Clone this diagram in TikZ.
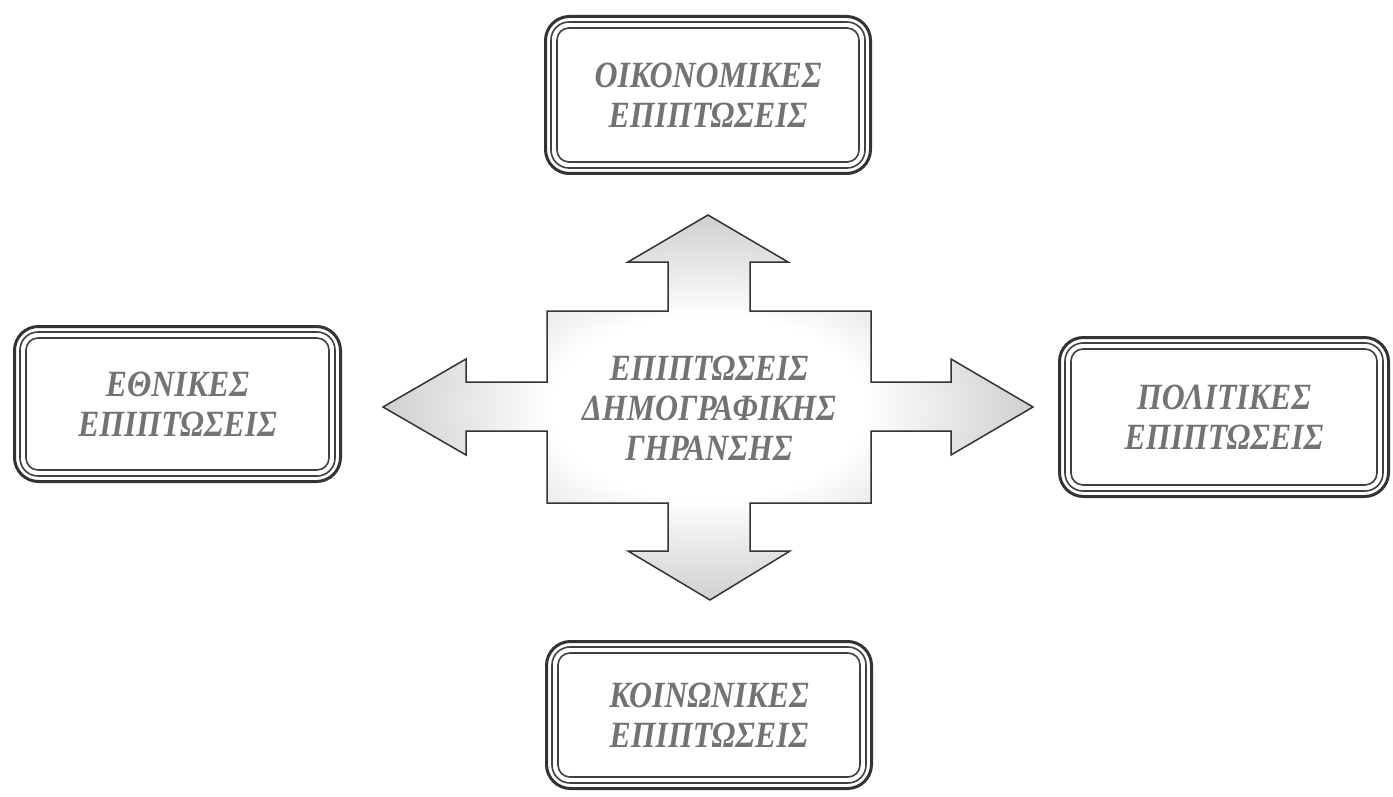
\documentclass[tikz,border=0pt]{standalone}
\usepackage{fontspec}
\newfontfamily\grk{Liberation Serif}[FakeStretch=0.86]
\pgfdeclareradialshading{crossshade}{\pgfpoint{0bp}{0bp}}{color(0bp)=(white); color(12bp)=(white); color(33bp)=(black!30); color(50bp)=(black!36)}
\tikzset{
  frameouter/.style={draw=black!80, line width=3pt, rounded corners=24pt, inner sep=0pt,
    font=\grk\bfseries\itshape\fontsize{37}{40}\selectfont, text=black!55, align=center},
  frameline/.style={draw=black!75, line width=1.6pt},
  crossline/.style={draw=black!80, line width=1.5pt, line join=miter},
  centertext/.style={font=\grk\bfseries\itshape\fontsize{37}{40}\selectfont, text=black!55, align=center, inner sep=0pt}
}
\begin{document}
\begin{tikzpicture}[x=1pt,y=-1pt]
\useasboundingbox[fill=white] (0,0) rectangle (1393,797);
% central cross arrow
\path[shading=crossshade, crossline]
  (708,215) -- (788,262) -- (750,262) -- (750,311) -- (871,311) -- (871,382) -- (951,382) -- (951,359)
  -- (1033,407) -- (951,455) -- (951,431) -- (871,431) -- (871,503) -- (750,503) -- (750,551) -- (790,551)
  -- (710,600) -- (628,551) -- (668,551) -- (668,503) -- (547,503) -- (547,431) -- (466,431) -- (466,455)
  -- (383,407) -- (466,359) -- (466,382) -- (547,382) -- (547,311) -- (668,311) -- (668,262) -- (628,262) -- cycle;
\node[centertext] (core) at (709,408) {ΕΠΙΠΤΩΣΕΙΣ\\ΔΗΜΟΓΡΑΦΙΚΗΣ\\ΓΗΡΑΝΣΗΣ};
% boxes
\node[frameouter, minimum width=325pt, minimum height=157pt] (econ) at (708,95) {ΟΙΚΟΝΟΜΙΚΕΣ\\ΕΠΙΠΤΩΣΕΙΣ};
\node[frameouter, minimum width=326pt, minimum height=155pt] (nat) at (177.5,404) {ΕΘΝΙΚΕΣ\\ΕΠΙΠΤΩΣΕΙΣ};
\node[frameouter, minimum width=329pt, minimum height=159pt] (pol) at (1224,417) {ΠΟΛΙΤΙΚΕΣ\\ΕΠΙΠΤΩΣΕΙΣ};
\node[frameouter, minimum width=325pt, minimum height=147pt] (soc) at (709,715) {ΚΟΙΝΩΝΙΚΕΣ\\ΕΠΙΠΤΩΣΕΙΣ};
\foreach \n in {econ,nat,pol,soc}{
  \draw[frameline, rounded corners=18pt] ([shift={(7,7)}]\n.north west) rectangle ([shift={(-7,-7)}]\n.south east);
  \draw[frameline, rounded corners=12pt] ([shift={(13,13)}]\n.north west) rectangle ([shift={(-13,-13)}]\n.south east);
}
\end{tikzpicture}
\end{document}
